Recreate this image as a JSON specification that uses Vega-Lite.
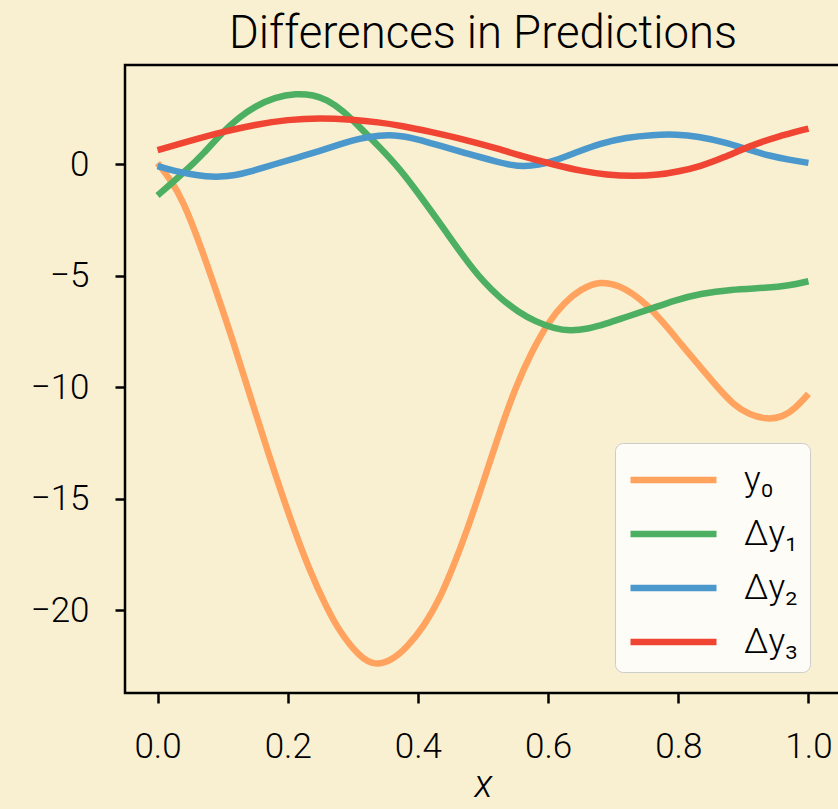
{
  "$schema": "https://vega.github.io/schema/vega-lite/v6.json",
  "width": 716,
  "height": 628,
  "autosize": "none",
  "padding": {"left": 125, "top": 65, "right": 0, "bottom": 116},
  "background": "#f9f0d2",
  "title": {"text": "Differences in Predictions", "fontSize": 45.5, "font": "Roboto, sans-serif", "fontWeight": 300, "color": "black", "baseline": "alphabetic", "frame": "group", "offset": 17, "dy": 45, "anchor": "middle"},
  "config": {
    "view": {"stroke": "black", "strokeWidth": 2.5, "fill": "#f9f0d2"},
    "axis": {"grid": false, "domain": false, "tickColor": "black", "tickWidth": 2.5, "tickSize": 10, "labelColor": "black", "labelFont": "Roboto, sans-serif", "labelFontWeight": 300, "labelFontSize": 35, "titleColor": "black", "titleFont": "Roboto, sans-serif"}
  },
  "datasets": {
    "curves": [
      {"x": 0, "y": 0.05, "s": "y₀"},
      {"x": 0.02, "y": -0.7, "s": "y₀"},
      {"x": 0.039, "y": -1.62, "s": "y₀"},
      {"x": 0.065, "y": -3.57, "s": "y₀"},
      {"x": 0.09, "y": -5.68, "s": "y₀"},
      {"x": 0.116, "y": -7.93, "s": "y₀"},
      {"x": 0.1415, "y": -10.33, "s": "y₀"},
      {"x": 0.17, "y": -12.95, "s": "y₀"},
      {"x": 0.2, "y": -15.6, "s": "y₀"},
      {"x": 0.234, "y": -18.28, "s": "y₀"},
      {"x": 0.26, "y": -19.9, "s": "y₀"},
      {"x": 0.28, "y": -20.98, "s": "y₀"},
      {"x": 0.31, "y": -22.1, "s": "y₀"},
      {"x": 0.334, "y": -22.5, "s": "y₀"},
      {"x": 0.36, "y": -22.25, "s": "y₀"},
      {"x": 0.3826, "y": -21.7, "s": "y₀"},
      {"x": 0.41, "y": -20.7, "s": "y₀"},
      {"x": 0.434, "y": -19.47, "s": "y₀"},
      {"x": 0.455, "y": -18.0, "s": "y₀"},
      {"x": 0.475, "y": -16.47, "s": "y₀"},
      {"x": 0.5, "y": -14.3, "s": "y₀"},
      {"x": 0.526, "y": -11.97, "s": "y₀"},
      {"x": 0.55, "y": -10.0, "s": "y₀"},
      {"x": 0.575, "y": -8.4, "s": "y₀"},
      {"x": 0.6, "y": -7.1, "s": "y₀"},
      {"x": 0.625, "y": -6.2, "s": "y₀"},
      {"x": 0.65, "y": -5.6, "s": "y₀"},
      {"x": 0.68, "y": -5.23, "s": "y₀"},
      {"x": 0.71, "y": -5.45, "s": "y₀"},
      {"x": 0.73, "y": -5.8, "s": "y₀"},
      {"x": 0.752, "y": -6.3, "s": "y₀"},
      {"x": 0.78, "y": -7.2, "s": "y₀"},
      {"x": 0.805, "y": -8.1, "s": "y₀"},
      {"x": 0.834, "y": -9.1, "s": "y₀"},
      {"x": 0.86, "y": -10.0, "s": "y₀"},
      {"x": 0.885, "y": -10.8, "s": "y₀"},
      {"x": 0.91, "y": -11.25, "s": "y₀"},
      {"x": 0.936, "y": -11.45, "s": "y₀"},
      {"x": 0.96, "y": -11.35, "s": "y₀"},
      {"x": 0.98, "y": -10.95, "s": "y₀"},
      {"x": 1.0, "y": -10.3, "s": "y₀"},

      {"x": 0, "y": -1.4, "s": "Δy₁"},
      {"x": 0.022, "y": -0.85, "s": "Δy₁"},
      {"x": 0.044, "y": -0.27, "s": "Δy₁"},
      {"x": 0.07, "y": 0.45, "s": "Δy₁"},
      {"x": 0.1, "y": 1.45, "s": "Δy₁"},
      {"x": 0.125, "y": 2.1, "s": "Δy₁"},
      {"x": 0.15, "y": 2.6, "s": "Δy₁"},
      {"x": 0.18, "y": 3.0, "s": "Δy₁"},
      {"x": 0.213, "y": 3.18, "s": "Δy₁"},
      {"x": 0.24, "y": 3.1, "s": "Δy₁"},
      {"x": 0.26, "y": 2.9, "s": "Δy₁"},
      {"x": 0.285, "y": 2.4, "s": "Δy₁"},
      {"x": 0.31, "y": 1.68, "s": "Δy₁"},
      {"x": 0.34, "y": 0.8, "s": "Δy₁"},
      {"x": 0.372, "y": -0.2, "s": "Δy₁"},
      {"x": 0.403, "y": -1.4, "s": "Δy₁"},
      {"x": 0.44, "y": -2.9, "s": "Δy₁"},
      {"x": 0.475, "y": -4.35, "s": "Δy₁"},
      {"x": 0.5, "y": -5.25, "s": "Δy₁"},
      {"x": 0.526, "y": -6.0, "s": "Δy₁"},
      {"x": 0.555, "y": -6.65, "s": "Δy₁"},
      {"x": 0.58, "y": -7.05, "s": "Δy₁"},
      {"x": 0.61, "y": -7.38, "s": "Δy₁"},
      {"x": 0.634, "y": -7.48, "s": "Δy₁"},
      {"x": 0.66, "y": -7.4, "s": "Δy₁"},
      {"x": 0.69, "y": -7.15, "s": "Δy₁"},
      {"x": 0.72, "y": -6.85, "s": "Δy₁"},
      {"x": 0.757, "y": -6.5, "s": "Δy₁"},
      {"x": 0.795, "y": -6.1, "s": "Δy₁"},
      {"x": 0.834, "y": -5.8, "s": "Δy₁"},
      {"x": 0.88, "y": -5.62, "s": "Δy₁"},
      {"x": 0.936, "y": -5.55, "s": "Δy₁"},
      {"x": 0.97, "y": -5.45, "s": "Δy₁"},
      {"x": 1.0, "y": -5.25, "s": "Δy₁"},

      {"x": 0, "y": -0.09, "s": "Δy₂"},
      {"x": 0.025, "y": -0.3, "s": "Δy₂"},
      {"x": 0.05, "y": -0.45, "s": "Δy₂"},
      {"x": 0.075, "y": -0.55, "s": "Δy₂"},
      {"x": 0.095, "y": -0.57, "s": "Δy₂"},
      {"x": 0.12, "y": -0.5, "s": "Δy₂"},
      {"x": 0.14, "y": -0.35, "s": "Δy₂"},
      {"x": 0.16, "y": -0.18, "s": "Δy₂"},
      {"x": 0.18, "y": 0.0, "s": "Δy₂"},
      {"x": 0.215, "y": 0.3, "s": "Δy₂"},
      {"x": 0.25, "y": 0.6, "s": "Δy₂"},
      {"x": 0.28, "y": 0.9, "s": "Δy₂"},
      {"x": 0.31, "y": 1.15, "s": "Δy₂"},
      {"x": 0.34, "y": 1.3, "s": "Δy₂"},
      {"x": 0.372, "y": 1.3, "s": "Δy₂"},
      {"x": 0.4, "y": 1.12, "s": "Δy₂"},
      {"x": 0.43, "y": 0.86, "s": "Δy₂"},
      {"x": 0.475, "y": 0.48, "s": "Δy₂"},
      {"x": 0.52, "y": 0.12, "s": "Δy₂"},
      {"x": 0.545, "y": -0.05, "s": "Δy₂"},
      {"x": 0.562, "y": -0.1, "s": "Δy₂"},
      {"x": 0.585, "y": -0.04, "s": "Δy₂"},
      {"x": 0.61, "y": 0.15, "s": "Δy₂"},
      {"x": 0.645, "y": 0.55, "s": "Δy₂"},
      {"x": 0.68, "y": 0.93, "s": "Δy₂"},
      {"x": 0.72, "y": 1.2, "s": "Δy₂"},
      {"x": 0.76, "y": 1.32, "s": "Δy₂"},
      {"x": 0.798, "y": 1.34, "s": "Δy₂"},
      {"x": 0.83, "y": 1.25, "s": "Δy₂"},
      {"x": 0.87, "y": 1.0, "s": "Δy₂"},
      {"x": 0.91, "y": 0.63, "s": "Δy₂"},
      {"x": 0.94, "y": 0.38, "s": "Δy₂"},
      {"x": 0.97, "y": 0.2, "s": "Δy₂"},
      {"x": 1.0, "y": 0.06, "s": "Δy₂"},

      {"x": 0, "y": 0.63, "s": "Δy₃"},
      {"x": 0.05, "y": 1.05, "s": "Δy₃"},
      {"x": 0.1, "y": 1.45, "s": "Δy₃"},
      {"x": 0.15, "y": 1.78, "s": "Δy₃"},
      {"x": 0.2, "y": 2.0, "s": "Δy₃"},
      {"x": 0.25, "y": 2.08, "s": "Δy₃"},
      {"x": 0.3, "y": 2.0, "s": "Δy₃"},
      {"x": 0.34, "y": 1.88, "s": "Δy₃"},
      {"x": 0.372, "y": 1.74, "s": "Δy₃"},
      {"x": 0.42, "y": 1.45, "s": "Δy₃"},
      {"x": 0.475, "y": 1.08, "s": "Δy₃"},
      {"x": 0.52, "y": 0.72, "s": "Δy₃"},
      {"x": 0.56, "y": 0.36, "s": "Δy₃"},
      {"x": 0.613, "y": -0.05, "s": "Δy₃"},
      {"x": 0.65, "y": -0.3, "s": "Δy₃"},
      {"x": 0.69, "y": -0.48, "s": "Δy₃"},
      {"x": 0.731, "y": -0.54, "s": "Δy₃"},
      {"x": 0.77, "y": -0.48, "s": "Δy₃"},
      {"x": 0.8, "y": -0.33, "s": "Δy₃"},
      {"x": 0.834, "y": -0.1, "s": "Δy₃"},
      {"x": 0.87, "y": 0.3, "s": "Δy₃"},
      {"x": 0.91, "y": 0.82, "s": "Δy₃"},
      {"x": 0.95, "y": 1.22, "s": "Δy₃"},
      {"x": 1.0, "y": 1.6, "s": "Δy₃"}
    ]
  },
  "layer": [
    {
      "mark": {"type": "rule", "color": "black", "strokeWidth": 2.5, "strokeDash": [10, 6]},
      "encoding": {"y": {"datum": 0, "type": "quantitative", "scale": {"domain": [-23.72, 4.45]}}}
    },
    {
      "data": {"name": "curves"},
      "mark": {"type": "line", "strokeWidth": 6.5, "interpolate": "basis", "clip": true},
      "encoding": {
        "x": {"field": "x", "type": "quantitative", "scale": {"domain": [-0.05, 1.05], "nice": false, "zero": false},
              "axis": {"values": [0, 0.2, 0.4, 0.6, 0.8, 1.0], "format": ".1f", "labelPadding": 26, "title": "x", "titleFontStyle": "italic", "titleFontWeight": 300, "titleFontSize": 38, "titlePadding": 2}},
        "y": {"field": "y", "type": "quantitative", "scale": {"domain": [-23.72, 4.45], "nice": false, "zero": false},
              "axis": {"values": [-20, -15, -10, -5, 0], "labelPadding": 26, "title": null}},
        "color": {"field": "s", "type": "nominal", "sort": null,
                  "scale": {"domain": ["y₀", "Δy₁", "Δy₂", "Δy₃"], "range": ["#ffa35e", "#4daf62", "#4b98cc", "#f04532"]},
                  "legend": {"title": null, "orient": "none", "legendX": 490, "legendY": 378, "symbolType": "M-1,0H3", "symbolSize": 1849, "symbolStrokeWidth": 6.5, "labelFontSize": 35, "labelFont": "Roboto, sans-serif", "labelFontWeight": 300, "labelColor": "black", "labelOffset": 67, "rowPadding": 11, "padding": 12, "fillColor": "#fdfcf7", "strokeColor": "#cccccc", "cornerRadius": 8}}
      }
    }
  ]
}
